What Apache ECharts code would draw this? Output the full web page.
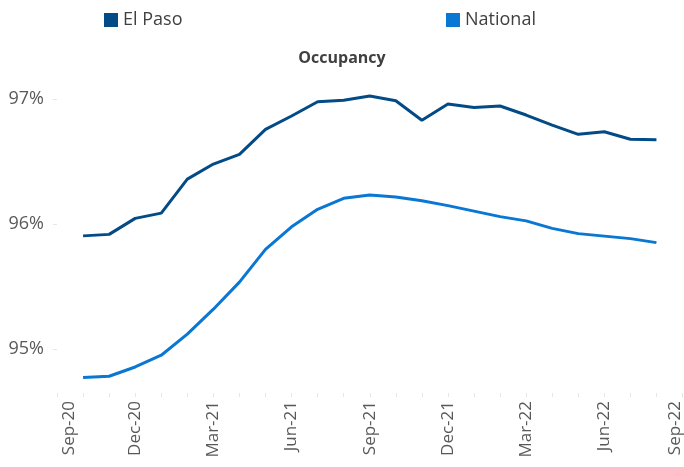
<!DOCTYPE html>
<html>
<head>
<meta charset="utf-8">
<script src="https://cdn.jsdelivr.net/npm/echarts@6/dist/echarts.min.js"></script>
<style>
html,body{margin:0;padding:0;background:#fff;}
#chart{width:684px;height:467px;}
</style>
</head>
<body>
<div id="chart"></div>
<script>
const categories = ['Sep-20','Oct-20','Nov-20','Dec-20','Jan-21','Feb-21','Mar-21','Apr-21','May-21','Jun-21','Jul-21','Aug-21','Sep-21','Oct-21','Nov-21','Dec-21','Jan-22','Feb-22','Mar-22','Apr-22','May-22','Jun-22','Jul-22','Aug-22','Sep-22'];
const elPaso = [null,95.906,95.918,96.046,96.088,96.36,96.48,96.558,96.758,96.864,96.978,96.99,97.024,96.986,96.83,96.96,96.932,96.944,96.872,96.792,96.718,96.738,96.678,96.674,null];
const national = [null,94.774,94.784,94.858,94.952,95.12,95.32,95.536,95.798,95.978,96.118,96.206,96.232,96.216,96.186,96.148,96.104,96.06,96.026,95.966,95.924,95.904,95.884,95.852,null];
const yTicks = [95,96,97];
const seriesNames = ['El Paso','National'];
const title = 'Occupancy';

const FONT = "'Segoe UI','Open Sans',sans-serif";
const chart = echarts.init(document.getElementById('chart'), null, {renderer:'canvas'});
chart.setOption({
  animation:false,
  backgroundColor:'#ffffff',
  title:{text:title,left:'center',top:45,textStyle:{fontFamily:FONT,fontSize:16,fontWeight:'bold',color:'#404040'}},
  legend:[
    {data:[seriesNames[0]],left:99,top:6,itemWidth:14,itemHeight:14,itemGap:5,icon:'rect',textStyle:{fontFamily:FONT,fontSize:18,color:'#404040'}},
    {data:[seriesNames[1]],left:441,top:6,itemWidth:14,itemHeight:14,itemGap:5,icon:'rect',textStyle:{fontFamily:FONT,fontSize:18,color:'#404040'}}
  ],
  grid:{left:57,right:-4,top:74,bottom:74},
  xAxis:{
    type:'category',data:categories,boundaryGap:false,
    axisLine:{show:false},
    axisTick:{show:true,interval:0,length:4,lineStyle:{color:'#e6e6e6'}},
    axisLabel:{interval:2,rotate:90,margin:8,fontFamily:FONT,fontSize:17,color:'#595959',
      formatter:function(v,i){ if(i===0) return '{a|'+v+'}'; if(i===categories.length-1) return '{b|'+v+'}'; return v; },
      rich:{a:{padding:[24,0,0,0],fontFamily:FONT,fontSize:17,color:'#595959'},b:{padding:[0,0,14,0],fontFamily:FONT,fontSize:17,color:'#595959'}}
    },
    splitLine:{show:false}
  },
  yAxis:{
    type:'value',min:94.65,max:97.2,
    axisLine:{show:false},
    axisTick:{show:true,length:4,lineStyle:{color:'#e6e6e6'},customValues:yTicks},
    axisLabel:{customValues:yTicks,formatter:'{value}%',margin:13,fontFamily:FONT,fontSize:18,color:'#595959'},
    splitLine:{show:false}
  },
  series:[
    {name:seriesNames[0],type:'line',data:elPaso,symbol:'none',lineStyle:{width:3,color:'#034B86'},itemStyle:{color:'#034B86'}},
    {name:seriesNames[1],type:'line',data:national,symbol:'none',lineStyle:{width:3,color:'#0A77D3'},itemStyle:{color:'#0A77D3'}}
  ]
});
</script>
</body>
</html>
